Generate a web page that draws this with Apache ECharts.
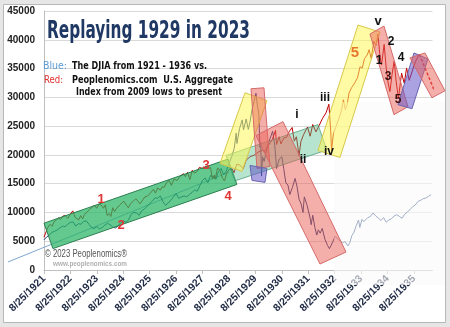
<!DOCTYPE html>
<html><head><meta charset="utf-8">
<script src="https://cdn.jsdelivr.net/npm/echarts@6/dist/echarts.min.js"></script>
<style>html,body{margin:0;padding:0;background:#e6e6e6;}#c{width:450px;height:327px;}</style>
</head><body><div id="c"></div>
<script>
// ---- data (x = years after 8/25/1921) ----
const xTickLabels = ['8/25/1921','8/25/1922','8/25/1923','8/25/1924','8/25/1925','8/25/1926','8/25/1927','8/25/1928','8/25/1929','8/25/1930','8/25/1931','8/25/1932','8/25/1933','8/25/1934','8/25/1935'];
const yTicks = [0,5000,10000,15000,20000,25000,30000,35000,40000,45000];

// Blue: DJIA 1921-1936 (scaled)
const djia = [[0.00,5250],[0.10,5740],[0.20,6070],[0.30,6560],[0.40,6720],[0.50,6970],[0.60,7300],[0.70,7630],[0.80,7540],[0.90,7950],[1.00,8280],[1.10,8360],[1.20,7630],[1.30,8040],[1.40,7950],[1.50,8450],[1.60,8530],[1.70,7950],[1.80,7380],[1.90,7220],[2.00,7540],[2.10,7130],[2.20,7380],[2.30,7790],[2.40,8120],[2.50,7870],[2.60,7460],[2.70,7300],[2.80,7630],[2.90,8200],[3.00,8530],[3.10,8280],[3.20,8690],[3.30,9680],[3.40,10000],[3.50,9920],[3.60,9510],[3.70,10330],[3.80,10580],[3.90,11070],[4.00,11560],[4.10,11970],[4.20,12550],[4.30,12460],[4.40,12870],[4.50,11890],[4.60,11230],[4.70,11640],[4.80,12140],[4.90,12710],[5.00,13280],[5.10,12460],[5.20,12710],[5.30,12870],[5.40,12710],[5.50,13120],[5.60,13450],[5.70,13940],[5.80,13690],[5.90,14680],[6.00,15580],[6.10,15990],[6.20,15170],[6.30,16400],[6.40,16240],[6.50,15740],[6.60,17060],[6.70,17630],[6.80,16560],[6.90,17220],[7.00,18450],[7.10,19680],[7.20,21160],[7.27,23780],[7.30,21980],[7.40,24600],[7.50,26080],[7.55,24350],[7.65,26240],[7.73,24440],[7.80,25830],[7.87,27880],[7.95,29270],[8.02,30700],[8.07,28700],[8.13,27060],[8.17,21320],[8.20,22140],[8.23,16320],[8.27,19680],[8.33,18860],[8.40,20500],[8.50,22140],[8.65,24110],[8.73,21730],[8.80,17630],[8.90,19270],[9.00,19680],[9.07,17630],[9.15,15170],[9.23,14760],[9.30,13120],[9.40,14350],[9.50,15910],[9.57,14600],[9.65,12300],[9.73,11480],[9.80,10000],[9.85,12710],[9.95,11320],[10.00,11480],[10.07,9020],[10.11,7870],[10.17,9510],[10.25,7380],[10.32,6070],[10.38,6970],[10.45,6400],[10.53,7220],[10.63,5330],[10.73,4260],[10.80,3690],[10.87,3360],[10.93,4920],[11.02,5900],[11.10,5410],[11.20,5080],[11.30,4760],[11.40,4920],[11.50,4180],[11.57,4760],[11.65,5990],[11.73,6560],[11.80,7540],[11.90,8690],[11.95,7380],[12.03,8800],[12.10,8400],[12.17,8200],[12.25,9100],[12.35,9300],[12.45,9900],[12.55,9400],[12.65,9000],[12.75,8600],[12.85,9100],[12.95,8300],[13.05,8700],[13.15,8900],[13.25,9400],[13.35,9600],[13.45,9300],[13.55,9000],[13.65,9700],[13.75,10100],[13.85,10500],[13.95,11000],[14.05,11300],[14.15,11900],[14.25,12100],[14.35,12400],[14.45,12500],[14.55,12800],[14.65,13100]];

// Red: Peoplenomics U.S. Aggregate, 2009 lows to present (aligned)
const aggregate = [[0.00,5700],[0.06,6400],[0.14,7350],[0.23,7950],[0.31,7600],[0.38,8370],[0.47,8700],[0.55,9040],[0.63,8790],[0.72,9380],[0.80,9460],[0.90,8960],[1.00,9720],[1.09,10270],[1.17,9170],[1.24,9460],[1.31,8700],[1.39,9460],[1.46,8870],[1.53,9630],[1.63,10060],[1.73,10560],[1.83,10900],[1.92,11240],[1.99,10730],[2.09,11490],[2.19,11150],[2.25,10730],[2.32,11320],[2.39,9460],[2.47,9800],[2.53,9300],[2.60,10820],[2.67,10140],[2.74,10650],[2.87,11320],[3.02,11960],[3.12,11240],[3.19,10820],[3.27,11490],[3.37,11910],[3.47,12380],[3.56,11910],[3.63,11490],[3.71,12000],[3.81,12680],[3.91,12840],[4.01,13270],[4.14,14030],[4.22,13350],[4.30,14280],[4.40,13860],[4.47,14450],[4.55,14370],[4.64,15210],[4.74,15550],[4.82,14700],[4.92,15800],[5.04,15550],[5.15,16310],[5.28,16730],[5.35,16220],[5.43,16980],[5.52,15720],[5.61,17320],[5.69,16820],[5.78,17070],[5.88,17830],[6.03,17580],[6.13,18000],[6.22,17580],[6.30,17830],[6.37,15800],[6.44,16480],[6.48,15890],[6.57,17750],[6.66,17240],[6.76,15890],[6.83,15460],[6.92,16900],[7.02,17490],[7.12,17580],[7.19,16900],[7.29,18340],[7.41,18250],[7.54,17620],[7.65,19100],[7.80,19690],[7.95,19940],[8.10,20450],[8.25,20870],[8.34,20530],[8.49,21630],[8.64,22650],[8.76,24250],[8.80,21800],[8.90,23150],[8.96,21890],[9.08,22980],[9.18,23070],[9.27,24000],[9.39,24760],[9.47,22390],[9.55,23150],[9.65,19860],[9.72,22310],[9.82,23490],[9.97,24840],[10.07,23240],[10.17,25270],[10.24,25520],[10.29,24000],[10.41,25100],[10.54,26360],[10.67,27290],[10.78,28800],[10.85,24000],[10.88,20800],[10.95,23660],[11.05,24930],[11.15,26200],[11.25,27630],[11.33,29580],[11.40,27890],[11.47,28730],[11.54,30760],[11.64,31690],[11.76,32530],[11.86,33380],[11.96,35320],[12.04,35070],[12.13,36760],[12.23,37350],[12.30,38280],[12.38,36760],[12.48,39720],[12.56,39040],[12.64,41000],[12.70,37600],[12.77,35600],[12.87,39200],[12.95,35000],[13.02,32500],[13.09,31000],[13.17,34000],[13.25,36300],[13.32,33000],[13.41,29800],[13.47,32000],[13.53,34200],[13.63,32450],[13.72,35070],[13.82,32950],[13.97,35070],[14.07,36340],[14.20,37500]];
const aggregateForecast = [[14.20,37500],[14.85,30300]];
const trendLine = [[-1.36,1400],[7.0,17000]];

// annotation boxes in data space: 4 corners (t,v) + style key
const annotationBoxes = [
  [0,8131, 6.962,19272, 7.298,14861, 0.337,3720, 'green'],
  [6.886,19895, 10.367,25258, 10.704,20847, 7.223,15484, 'teal'],
  [6.659,18511, 7.605,30794, 8.437,29410, 7.491,17127, 'yellow'],
  [7.832,31486, 8.324,31659, 8.551,17992, 8.059,17646, 'pink'],
  [7.794,18165, 8.437,17646, 8.362,15224, 7.870,15570, 'purple'],
  [8.021,23355, 9.043,25777, 11.427,3114, 10.443,1038, 'pink'],
  [10.367,20760, 11.881,42558, 12.713,41347, 11.199,19549, 'yellow'],
  [12.334,41001, 12.864,42385, 13.772,28372, 13.243,26988, 'pink'],
  [13.394,28718, 13.924,28026, 14.529,36676, 13.999,37714, 'purple'],
  [13.848,36849, 14.415,37714, 15.172,31140, 14.680,29929, 'pink']
];
const boxStyles = {
  green:{fill:'rgba(40,180,100,0.72)',stroke:'#2a7f4f'},
  teal:{fill:'rgba(80,190,140,0.42)',stroke:'rgba(60,150,110,0.7)'},
  yellow:{fill:'rgba(255,248,90,0.55)',stroke:'#d8c84a'},
  pink:{fill:'rgba(235,95,85,0.5)',stroke:'#d46a6a'},
  purple:{fill:'rgba(100,85,200,0.55)',stroke:'#6a64b0'}
};

const chart = echarts.init(document.getElementById('c'), null, {renderer:'canvas'});
const mctx = document.createElement('canvas').getContext('2d');
function fit(text, font, w){ mctx.font = font; return w / mctx.measureText(text).width; }
function txt(text, x, y, font, fill, targetW, extra){
  const s = targetW ? fit(text, font, targetW) : 1;
  return Object.assign({type:'text', x:x, y:y, scaleX:s, z:30, silent:true,
    style:{text:text, font:font, fill:fill, align:'left', verticalAlign:'middle'}}, extra||{});
}
const NARROW = "'Liberation Sans Narrow','DejaVu Sans Condensed','Liberation Sans',sans-serif";
const HEAVY = "'DejaVu Sans Condensed','Liberation Sans Narrow',sans-serif";
const SANS = "'Liberation Sans',Arial,sans-serif";
function lbl(text, cx, cy, size, color){
  return {type:'text', x:cx, y:cy, z:30, silent:true,
    style:{text:text, font:'bold '+size+'px '+SANS, fill:color, align:'center', verticalAlign:'middle'}};
}

const option = {
  animation:false,
  backgroundColor:'#e6e6e6',
  grid:{left:44, right:17.5, top:11, bottom:57, containLabel:false},
  xAxis:{type:'value', min:0, max:14.7, interval:1,
    axisLine:{show:true, lineStyle:{color:'#bfbfbf'}},
    axisTick:{show:true, length:4, lineStyle:{color:'#bfbfbf'}},
    splitLine:{show:false},
    axisLabel:{rotate:45, margin:7, fontSize:10.5, fontWeight:'bold', color:'#1f2a44', fontFamily:SANS,
      showMaxLabel:false,
      formatter:function(v){ return Number.isInteger(v) && xTickLabels[v] ? xTickLabels[v] : ''; }}
  },
  yAxis:{type:'value', min:yTicks[0], max:yTicks[yTicks.length-1], interval:5000,
    axisLine:{show:true, lineStyle:{color:'#bfbfbf'}},
    axisTick:{show:false},
    splitLine:{lineStyle:{color:'#d9d9d9'}},
    axisLabel:{margin:9, fontSize:10, fontWeight:'bold', color:'#222', fontFamily:SANS,
      formatter:function(v){return String(v);}}
  },
  series:[
    {type:'custom', z:2, clip:false, silent:true, data:[[trendLine[0][0],trendLine[0][1],trendLine[1][0],trendLine[1][1]]],
      renderItem:function(params, api){
        const a = api.coord([api.value(0), api.value(1)]), b = api.coord([api.value(2), api.value(3)]);
        return {type:'line', shape:{x1:a[0],y1:a[1],x2:b[0],y2:b[1]}, style:{stroke:'#7fa6d0', lineWidth:1}};
      }
    },
    {type:'line', data:djia, symbol:'none', z:3, lineStyle:{color:'#1f3d7a', width:1}},
    {type:'line', data:aggregate, symbol:'none', z:3, lineStyle:{color:'#c00000', width:1}},
    {type:'line', data:aggregateForecast, symbol:'none', clip:false, z:3, lineStyle:{color:'#d42020', width:1.5, type:[3,2]}},
    {type:'custom', z:10, clip:false, silent:true,
      data:annotationBoxes.map(function(b){return b.slice(0,8);}),
      renderItem:function(params, api){
        const pts=[];
        for(let i=0;i<4;i++) pts.push(api.coord([api.value(2*i), api.value(2*i+1)]));
        const st = boxStyles[annotationBoxes[params.dataIndex][8]];
        return {type:'polygon', shape:{points:pts}, style:{fill:st.fill, stroke:st.stroke, lineWidth:1}};
      }
    }
  ],
  graphic:[
    {type:'rect', z:-10, silent:true, shape:{x:3.5, y:4.5, width:442, height:318}, style:{fill:'#fff', stroke:'#b8b8b8', lineWidth:1}},
    {type:'rect', z:5, silent:true, shape:{x:334, y:102, width:111, height:183}, style:{fill:'rgba(250,250,250,0.6)'}},
    txt('Replaying 1929 in 2023', 47, 31, 'bold 25px '+HEAVY, '#1f3864', 203),
    txt('Blue:', 43, 66, '11px '+NARROW, '#5b9bd5', 24),
    txt('The DJIA from 1921 - 1936 vs.', 72, 66, 'bold 11px '+NARROW, '#111', 135),
    txt('Red:', 44, 80, '11px '+NARROW, '#e03030', 19),
    txt('Peoplenomics.com  U.S. Aggregate', 72, 80, 'bold 11px '+NARROW, '#111', 161),
    txt('Index from 2009 lows to present', 76, 92, 'bold 11px '+NARROW, '#111', 146),
    txt('\u00a9 2023 Peoplenomics\u00ae', 45, 254, '10px '+SANS, '#555', 82),
    txt('www.peoplenomics.com', 53, 263.5, 'bold 8px '+SANS, '#b0b0b0', 74),
    lbl('1', 101, 199, 13, '#e03535'),
    lbl('2', 121, 225, 13, '#e03535'),
    lbl('3', 206, 165, 13, '#e03535'),
    lbl('4', 228, 196, 13, '#e03535'),
    lbl('i', 297, 115, 12, '#111'),
    lbl('ii', 303, 160, 12, '#111'),
    lbl('iii', 325, 98, 12, '#111'),
    lbl('iv', 329, 152, 12, '#111'),
    lbl('5', 355, 53, 15, '#e8772e'),
    lbl('v', 378, 21, 13, '#111'),
    lbl('1', 379, 61, 12, '#111'),
    lbl('2', 391, 42, 12, '#111'),
    lbl('3', 388, 77, 12, '#3a1010'),
    lbl('4', 401, 58, 12, '#111'),
    lbl('5', 398, 100, 12, '#3a1010')
  ]
};
chart.setOption(option);
</script></body></html>
